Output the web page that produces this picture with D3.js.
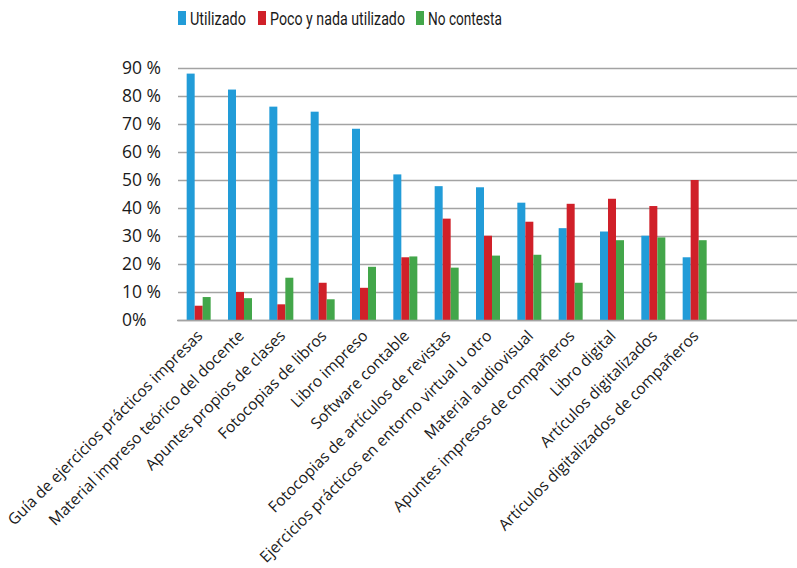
<!DOCTYPE html>
<html>
<head>
<meta charset="utf-8">
<script src="https://cdn.jsdelivr.net/npm/d3@7"></script>
<style>
  html, body { margin: 0; padding: 0; background: #fff; }
  svg { display: block; }
</style>
</head>
<body>
<svg id="chart" width="797" height="568"></svg>
<script>
// Material usage survey: share of respondents per resource
const categories = [
  "Guía de ejercicios prácticos impresas",
  "Material impreso teórico del docente",
  "Apuntes propios de clases",
  "Fotocopias de libros",
  "Libro impreso",
  "Software contable",
  "Fotocopias de artículos de revistas",
  "Ejercicios prácticos en entorno virtual u otro",
  "Material audiovisual",
  "Apuntes impresos de compañeros",
  "Libro digital",
  "Artículos digitalizados",
  "Artículos digitalizados de compañeros"
];
const seriesNames = ["Utilizado", "Poco y nada utilizado", "No contesta"];
const utilizado  = [88, 82.3, 76.2, 74.4, 68.3, 52, 47.8, 47.4, 41.9, 32.8, 31.6, 30.1, 22.4];
const pocoYNada  = [5.1, 10, 5.6, 13.3, 11.5, 22.4, 36.2, 30.1, 35.1, 41.5, 43.3, 40.7, 50];
const noContesta = [8.2, 7.8, 15.1, 7.4, 19, 22.7, 18.7, 23, 23.3, 13.3, 28.5, 29.5, 28.5];
const tickValues = [0, 10, 20, 30, 40, 50, 60, 70, 80, 90];
const tickLabels = ["0%", "10 %", "20 %", "30 %", "40 %", "50 %", "60 %", "70 %", "80 %", "90 %"];

const colors = ["#229cd8", "#d02029", "#43a64a"];
const slotCount = 15; // the category axis leaves two empty slots on the right

const svg = d3.select("#chart");
const plot = { left: 178, right: 798, top: 68, bottom: 320 };

const x = d3.scaleBand()
  .domain(d3.range(slotCount))
  .range([plot.left, plot.right])
  .paddingInner(0).paddingOuter(0);

const xInner = d3.scaleBand()
  .domain(d3.range(seriesNames.length))
  .range([-12, 12]);

const y = d3.scaleLinear().domain([0, 90]).range([plot.bottom, plot.top]);

// Gridlines
svg.append("g")
  .selectAll("line")
  .data(tickValues)
  .join("line")
  .attr("x1", plot.left)
  .attr("x2", plot.right)
  .attr("y1", d => Math.round(y(d)) + 0.5)
  .attr("y2", d => Math.round(y(d)) + 0.5)
  .attr("stroke", "#a3a3a3")
  .attr("stroke-width", 1.6);

// Y axis labels (left aligned)
svg.append("g")
  .selectAll("text")
  .data(tickValues)
  .join("text")
  .attr("x", 122)
  .attr("y", d => y(d))
  .attr("dy", "0.36em")
  .attr("font-family", "'Open Sans', sans-serif")
  .attr("font-size", 17.5)
  .attr("fill", "#1a1a1a")
  .text((d, i) => tickLabels[i]);

// Bars
const rows = categories.map((c, i) => ({ i, values: [utilizado[i], pocoYNada[i], noContesta[i]] }));
const groups = svg.append("g")
  .selectAll("g")
  .data(rows)
  .join("g")
  .attr("transform", d => `translate(${x(d.i) + x.bandwidth() / 2},0)`);

groups.selectAll("rect")
  .data(d => d.values.map((v, s) => ({ v, s })))
  .join("rect")
  .attr("x", d => xInner(d.s))
  .attr("width", xInner.bandwidth())
  .attr("y", d => y(d.v))
  .attr("height", d => y(0) - y(d.v))
  .attr("fill", d => colors[d.s]);

// Baseline redrawn over bars
svg.append("line")
  .attr("x1", plot.left - 1).attr("x2", plot.right)
  .attr("y1", Math.round(y(0)) + 0.5).attr("y2", Math.round(y(0)) + 0.5)
  .attr("stroke", "#a3a3a3").attr("stroke-width", 1.6);

// Category labels, rotated
svg.append("g")
  .selectAll("text")
  .data(categories)
  .join("text")
  .attr("transform", (d, i) => `translate(${x(i) + x.bandwidth() / 2 + 1},333) rotate(-45)`)
  .attr("text-anchor", "end")
  .attr("dy", "0.35em")
  .attr("font-family", "'Open Sans', sans-serif")
  .attr("font-size", 15.6)
  .attr("fill", "#1a1a1a")
  .text(d => d);

// Legend: condensed labels, squeezed horizontally to a fixed width each
const legendX = [178, 258, 416];
const legendTextW = [56, 135, 74];
const legend = svg.append("g")
  .selectAll("g")
  .data(seriesNames)
  .join("g")
  .attr("transform", (d, i) => `translate(${legendX[i]},11)`);
legend.append("rect")
  .attr("width", 8).attr("height", 14)
  .attr("fill", (d, i) => colors[i]);
legend.append("text")
  .attr("font-family", "Roboto, sans-serif")
  .attr("font-size", 18.5)
  .attr("fill", "#1a1a1a")
  .text(d => d)
  .attr("transform", function (d, i) {
    const k = legendTextW[i] / this.getComputedTextLength();
    return `translate(12,13.5) scale(${k},1)`;
  });
</script>
</body>
</html>
